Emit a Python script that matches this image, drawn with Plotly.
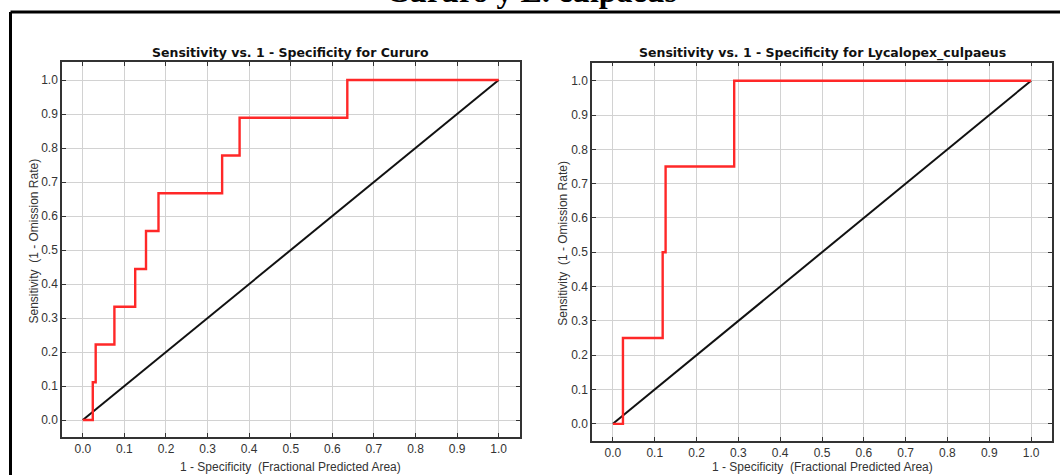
import plotly.graph_objects as go

W, H = 1060, 475

# ROC curve for Cururo (fractional predicted area vs. sensitivity)
cururo_fpr = [0.0, 0.024, 0.031, 0.076, 0.126, 0.152, 0.182, 0.335, 0.377, 0.636, 1.0]
cururo_tpr = [0.0, 0.111, 0.222, 0.333, 0.444, 0.556, 0.667, 0.778, 0.889, 1.0, 1.0]

# ROC curve for Lycalopex culpaeus
culpaeus_fpr = [0.0, 0.024, 0.119, 0.126, 0.29, 1.0]
culpaeus_tpr = [0.0, 0.25, 0.5, 0.75, 1.0, 1.0]

# random-prediction reference line
ref_line = [0.0, 1.0]

tick_vals = [0.0, 0.1, 0.2, 0.3, 0.4, 0.5, 0.6, 0.7, 0.8, 0.9, 1.0]

panel_titles = [
    "Sensitivity vs. 1 - Specificity for Cururo",
    "Sensitivity vs. 1 - Specificity for Lycalopex_culpaeus",
]
x_title = "1 - Specificity  (Fractional Predicted Area)"
y_title = "Sensitivity  (1 - Omission Rate)"
main_title = "Cururo y L. culpaeus"


def px_x(p):
    return p / W


def px_y(p):
    return 1 - p / H


# plot-area boxes in pixels: (left, right, top, bottom)
boxes = [(62, 519.5, 62, 437), (592, 1052, 62.5, 441)]

fig = go.Figure()

series = [(cururo_fpr, cururo_tpr), (culpaeus_fpr, culpaeus_tpr)]
for i, (fx, fy) in enumerate(series):
    xa = "x" if i == 0 else "x2"
    ya = "y" if i == 0 else "y2"
    fig.add_trace(go.Scatter(
        x=ref_line, y=ref_line, mode="lines", xaxis=xa, yaxis=ya,
        line=dict(color="#111111", width=2), showlegend=False, hoverinfo="skip",
    ))
    fig.add_trace(go.Scatter(
        x=fx, y=fy, mode="lines", xaxis=xa, yaxis=ya, line_shape="hv",
        line=dict(color="rgb(255,40,40)", width=2.4), showlegend=False,
    ))

axis_common = dict(
    showgrid=True, gridcolor="#d2d2d2", gridwidth=1,
    zeroline=False, showline=True, linecolor="#333333", linewidth=1.5,
    mirror="allticks", ticks="inside", ticklen=4, tickcolor="#333333",
    tickvals=tick_vals, tickformat=".1f",
    tickfont=dict(family="Liberation Sans, Arial, sans-serif", size=12, color="#333333"),
)

layout_axes = {}
for i, (l, r, t, b) in enumerate(boxes):
    sx = "" if i == 0 else "2"
    layout_axes["xaxis" + sx] = dict(
        axis_common, domain=[px_x(l), px_x(r)], range=[-0.05, 1.05],
        anchor="y" + sx,
    )
    layout_axes["yaxis" + sx] = dict(
        axis_common, domain=[px_y(b), px_y(t)], range=[-0.05, 1.053],
        anchor="x" + sx,
    )

annotations = []
for i, (l, r, t, b) in enumerate(boxes):
    cx = (l + r) / 2
    cy = (t + b) / 2
    annotations.append(dict(
        text=panel_titles[i], xref="paper", yref="paper",
        x=px_x(cx), y=px_y(52.5), xanchor="center", yanchor="middle",
        showarrow=False,
        font=dict(family="DejaVu Sans, sans-serif", size=12.5, color="#111111", weight="bold"),
    ))
    annotations.append(dict(
        text=x_title, xref="paper", yref="paper",
        x=px_x(cx), y=px_y(467), xanchor="center", yanchor="middle",
        showarrow=False,
        font=dict(family="Liberation Sans, Arial, sans-serif", size=12, color="#333333"),
    ))
    annotations.append(dict(
        text=y_title, xref="paper", yref="paper", textangle=-90,
        x=px_x(l - 29), y=px_y(cy - 8), xanchor="center", yanchor="middle",
        showarrow=False,
        font=dict(family="Liberation Sans, Arial, sans-serif", size=12, color="#333333"),
    ))

# page heading, mostly above the visible area
annotations.append(dict(
    text="<b>" + main_title + "</b>", xref="paper", yref="paper",
    x=px_x(531), y=px_y(11), xanchor="center", yanchor="bottom",
    showarrow=False,
    font=dict(family="Liberation Serif, Times New Roman, serif", size=32, color="#000000"),
))

# outer frame (top and left edges)
shapes = [
    dict(type="line", xref="paper", yref="paper",
         x0=px_x(10.5), x1=1.02, y0=px_y(12), y1=px_y(12),
         line=dict(color="#000000", width=3)),
    dict(type="line", xref="paper", yref="paper",
         x0=px_x(10.5), x1=px_x(10.5), y0=px_y(12), y1=-0.02,
         line=dict(color="#000000", width=3)),
]

fig.update_layout(
    width=W, height=H,
    margin=dict(l=0, r=0, t=0, b=0),
    paper_bgcolor="white", plot_bgcolor="white",
    annotations=annotations, shapes=shapes,
    **layout_axes,
)

fig.write_html("out.html")
